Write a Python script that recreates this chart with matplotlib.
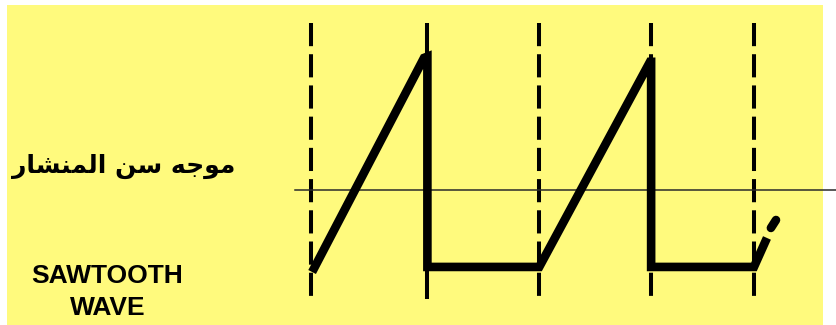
import matplotlib
matplotlib.use("Agg")
import matplotlib.pyplot as plt
from matplotlib.patches import Rectangle

# data (time in periods, level in relative units)
mark_t = [0.0, 1.03, 2.02, 3.01, 3.92]          # vertical dashed markers
mark_solid = [False, True, False, False, False]
saw_t = [0.01, 1.0, 1.03, 1.03, 2.02, 3.0, 3.01, 3.01, 3.92, 4.035]
saw_v = [-0.627, 1.02, 1.03, -0.588, -0.588, 0.99, 0.99, -0.588, -0.588, -0.365]
tail_t = [4.07, 4.115]
tail_v = [-0.288, -0.227]

label_ar = "موجه سن المنشار"
label_en = ["SAWTOOTH", "WAVE"]

W, H = 836, 325
yellow = "#fffa7d"

# matplotlib has no arabic shaping, so pick contextual forms by hand
forms = {
    "م": ("\ufee1", "\ufee2", "\ufee3", "\ufee4"),
    "و": ("\ufeed", "\ufeee", "\ufeed", "\ufeee"),
    "ج": ("\ufe9d", "\ufe9e", "\ufe9f", "\ufea0"),
    "ه": ("\ufee9", "\ufeea", "\ufeeb", "\ufeec"),
    "س": ("\ufeb1", "\ufeb2", "\ufeb3", "\ufeb4"),
    "ن": ("\ufee5", "\ufee6", "\ufee7", "\ufee8"),
    "ا": ("\ufe8d", "\ufe8e", "\ufe8d", "\ufe8e"),
    "ل": ("\ufedd", "\ufede", "\ufedf", "\ufee0"),
    "ش": ("\ufeb5", "\ufeb6", "\ufeb7", "\ufeb8"),
    "ر": ("\ufead", "\ufeae", "\ufead", "\ufeae"),
}
no_left = set("اورزدذ")


def shape(txt):
    out = []
    for i, c in enumerate(txt):
        if c not in forms:
            out.append(c)
            continue
        prev = txt[i - 1] if i > 0 else " "
        nxt = txt[i + 1] if i < len(txt) - 1 else " "
        join_prev = prev in forms and prev not in no_left
        join_next = nxt in forms and c not in no_left
        k = {(False, False): 0, (True, False): 1, (False, True): 2, (True, True): 3}[(join_prev, join_next)]
        out.append(forms[c][k])
    return "".join(reversed(out))


fig = plt.figure(figsize=(W / 100, H / 100), dpi=100)
fig.patch.set_facecolor("white")

# axes over the whole picture: t = (x-311)/113, v = (190.5-y)/130
ax = fig.add_axes([0, 0, 1, 1])
ax.set_xlim(-311 / 113, (W - 311) / 113)
ax.set_ylim((190.5 - H) / 130, 190.5 / 130)
ax.axis("off")
ax.add_patch(Rectangle((7 / W, 0), (823 - 7) / W, 320 / H,
                       transform=fig.transFigure, facecolor=yellow,
                       edgecolor="none", zorder=0))

v_top, v_bot = (190.5 - 23) / 130, (190.5 - 299) / 130
for t, solid in zip(mark_t, mark_solid):
    ls = "-" if solid else (0, (5.75, 2.0))
    ax.plot([t, t], [v_top, v_bot], color="black", lw=2.9, ls=ls,
            solid_capstyle="butt", dash_capstyle="butt", zorder=2)

ax.plot([(295 - 311) / 113, (W - 311) / 113], [0, 0], color="#2a2a2a", lw=1.1, zorder=3)

ax.plot(saw_t, saw_v, color="black", lw=6.2, solid_joinstyle="miter",
        solid_capstyle="butt", zorder=4)
ax.plot(tail_t, tail_v, color="black", lw=6.2, solid_capstyle="round", zorder=4)

fig.text(235 / W, 1 - 166 / H, shape(label_ar), ha="right", va="center",
         fontsize=18, fontweight="bold", family="DejaVu Sans", color="black")
fig.text(107 / W, 1 - 283 / H, label_en[0], ha="center", va="baseline",
         fontsize=19, fontweight="bold", family="Liberation Sans", color="black")
fig.text(107.5 / W, 1 - 315 / H, label_en[1], ha="center", va="baseline",
         fontsize=19, fontweight="bold", family="Liberation Sans", color="black")

fig.savefig("out.png", dpi=100)
